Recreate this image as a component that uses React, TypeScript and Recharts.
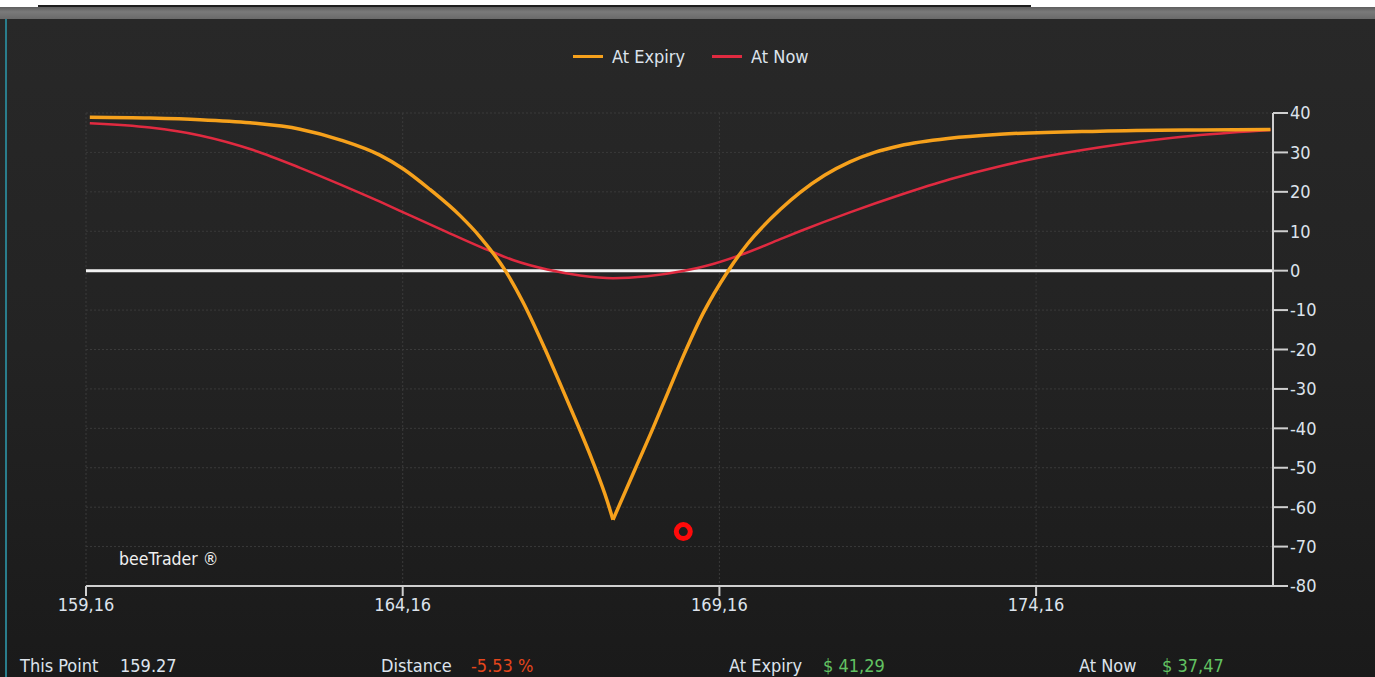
import { LineChart, Line, XAxis, YAxis, CartesianGrid, ReferenceLine, ReferenceDot } from "recharts";

const FONT = "'DejaVu Sans Condensed', 'Liberation Sans', sans-serif";

const xTicks = [159.16, 164.16, 169.16, 174.16];
const yTicks = [40, 30, 20, 10, 0, -10, -20, -30, -40, -50, -60, -70, -80];

// P&L at expiry, left branch down to the strike, then right branch back up
const expiryLeftPrices = [
  159.22, 160.17, 160.96, 161.75, 162.54, 163.17, 163.8, 164.17, 164.59, 165.07, 165.38, 165.78,
  166.06, 166.41, 166.64, 166.88, 167.15, 167.39, 167.48,
];
const expiryLeftValues = [
  38.9, 38.7, 38.3, 37.5, 35.9, 33.2, 29.3, 25.8, 20.6, 13.9, 8.6, 0,
  -8, -20, -28.5, -37.5, -48, -58.5, -63.2,
];
const expiryRightPrices = [
  167.48, 167.83, 168.1, 168.35, 168.6, 168.9, 169.3, 169.6, 170.12, 170.43, 170.82, 171.22, 171.61,
  172.01, 172.8, 173.59, 175.17, 176.75, 177.86,
];
const expiryRightValues = [
  -63.2, -50.3, -40.4, -30.8, -21.3, -10.9, 0, 6.7, 15.5, 19.8, 24.2, 27.6, 30.0,
  31.7, 33.6, 34.6, 35.4, 35.7, 35.8,
];

// P&L now
const nowPrices = [
  159.22, 160.17, 160.96, 161.8, 162.54, 163.17, 163.8, 164.32, 164.86, 165.54, 165.9, 166.44, 166.96,
  167.48, 168.02, 168.54, 169.06, 169.6, 170.12, 170.43, 171.22, 172.01, 172.8, 173.59, 174.16, 175.17,
  176.75, 177.86,
];
const nowValues = [
  37.4, 36.3, 34.3, 30.6, 26.1, 21.9, 17.5, 13.7, 9.8, 5.0, 2.7, 0.3, -1.2,
  -1.9, -1.4, -0.2, 1.7, 4.6, 8.0, 10.0, 14.8, 19.2, 23.2, 26.5, 28.5, 31.3,
  34.4, 35.7,
];

const thisPoint = { x: 168.59, y: -66.2 };

const expiryLeft = expiryLeftPrices.map((x, i) => ({ x, v: expiryLeftValues[i] }));
const expiryRight = expiryRightPrices.map((x, i) => ({ x, v: expiryRightValues[i] }));
const nowData = nowPrices.map((x, i) => ({ x, v: nowValues[i] }));

const ORANGE = "#f6a11c";
const RED = "#e02a40";
const TEXT = "#dde3ec";

const fmtX = (v: number) => v.toFixed(2).replace(".", ",");

export default function App() {
  return (
    <div
      style={{
        position: "absolute",
        left: 0,
        top: 0,
        width: 1375,
        height: 677,
        background: "#fff",
        overflow: "hidden",
        fontFamily: FONT,
      }}
    >
      <div style={{ position: "absolute", left: 38, top: 5, width: 993, height: 2, background: "#1e1e1e" }} />
      <div
        style={{
          position: "absolute",
          left: 0,
          top: 7,
          width: 1375,
          height: 12,
          background: "linear-gradient(#5e5e5e, #7a7a7a 40%, #6a6a6a)",
        }}
      />
      <div
        style={{
          position: "absolute",
          left: 0,
          top: 19,
          width: 1375,
          height: 658,
          background: "linear-gradient(#282828, #232323 50%, #1a1a1a)",
        }}
      />
      <div style={{ position: "absolute", left: 5, top: 19, width: 2, height: 658, background: "#2a7d8c" }} />

      {/* legend */}
      <div
        style={{
          position: "absolute",
          top: 46,
          left: 573,
          display: "flex",
          alignItems: "center",
          color: TEXT,
          fontSize: 18,
        }}
      >
        <span style={{ width: 30, height: 3, background: ORANGE, marginRight: 9 }} />
        <span style={{ marginRight: 27 }}>At Expiry</span>
        <span style={{ width: 30, height: 3, background: RED, marginRight: 9 }} />
        <span>At Now</span>
      </div>

      <div style={{ position: "absolute", top: 0, left: 0 }}>
        <LineChart width={1375} height={640} margin={{ top: 113, right: 42, bottom: 24, left: 86 }}>
          <CartesianGrid stroke="#3a3a3a" strokeDasharray="2 2" />
          <XAxis
            dataKey="x"
            type="number"
            domain={[159.16, 177.9]}
            ticks={xTicks}
            tickFormatter={fmtX}
            allowDataOverflow
            stroke="#cfcfcf"
            strokeWidth={2}
            tickSize={10}
            tickMargin={2}
            height={30}
            tick={{ fill: TEXT, fontSize: 18, fontFamily: FONT }}
          />
          <YAxis
            orientation="right"
            type="number"
            domain={[-80, 40]}
            ticks={yTicks}
            interval={0}
            stroke="#cfcfcf"
            strokeWidth={2}
            tickSize={15}
            tickMargin={2}
            width={60}
            tick={{ fill: TEXT, fontSize: 18, fontFamily: FONT, textAnchor: "start" }}
          />
          <ReferenceLine y={0} stroke="#f2f2f2" strokeWidth={3} />
          <Line
            data={nowData}
            dataKey="v"
            type="monotone"
            stroke={RED}
            strokeWidth={2.5}
            dot={false}
            isAnimationActive={false}
          />
          <Line
            data={expiryLeft}
            dataKey="v"
            type="monotone"
            stroke={ORANGE}
            strokeWidth={3.5}
            dot={false}
            isAnimationActive={false}
          />
          <Line
            data={expiryRight}
            dataKey="v"
            type="monotone"
            stroke={ORANGE}
            strokeWidth={3.5}
            dot={false}
            isAnimationActive={false}
          />
          <ReferenceDot x={thisPoint.x} y={thisPoint.y} r={7} fill="none" stroke="#ff0a0a" strokeWidth={5} />
        </LineChart>
      </div>

      <div style={{ position: "absolute", left: 119, top: 549, color: "#f0f0f0", fontSize: 17.5 }}>beeTrader ®</div>

      {/* info row */}
      <div style={{ position: "absolute", top: 655, left: 0, width: 1375, fontSize: 18, color: TEXT }}>
        <span style={{ position: "absolute", left: 20 }}>This Point</span>
        <span style={{ position: "absolute", left: 120 }}>159.27</span>
        <span style={{ position: "absolute", left: 381 }}>Distance</span>
        <span style={{ position: "absolute", left: 471, color: "#e5461c" }}>-5.53 %</span>
        <span style={{ position: "absolute", left: 729 }}>At Expiry</span>
        <span style={{ position: "absolute", left: 823, color: "#62c262" }}>$ 41,29</span>
        <span style={{ position: "absolute", left: 1079 }}>At Now</span>
        <span style={{ position: "absolute", left: 1162, color: "#62c262" }}>$ 37,47</span>
      </div>
    </div>
  );
}
